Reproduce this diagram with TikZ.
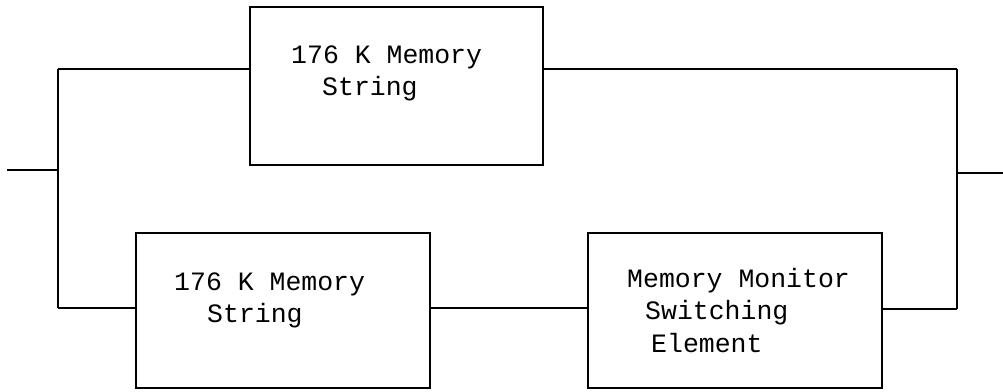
\documentclass[tikz,border=0pt]{standalone}
\usepackage{fontspec}
\setmonofont{Liberation Mono}
\begin{document}
\begin{tikzpicture}[x=1pt,y=-1pt,
  blk/.style={draw, line width=1.3pt, inner sep=0pt, outer sep=0pt},
  wire/.style={line width=1.3pt},
  lbl/.style={anchor=base west, inner sep=0pt, font=\ttfamily\fontsize{26.5}{32}\selectfont}]
\useasboundingbox (0,0) rectangle (1003,391);
% boxes
\node[blk, minimum width=293pt, minimum height=158pt] (top) at (396.5,86) {};
\node[blk, minimum width=294pt, minimum height=155pt] (bl) at (283,310.5) {};
\node[blk, minimum width=294pt, minimum height=155pt] (br) at (735,310.5) {};
% labels
\node[lbl] (t1) at (291,63) {176 K Memory};
\node[lbl] (t2) at (322,95) {String};
\node[lbl] (b1) at (174,290) {176 K Memory};
\node[lbl] (b2) at (207,322) {String};
\node[lbl] (r1) at (627,287) {Memory Monitor};
\node[lbl] (r2) at (645,319) {Switching};
\node[lbl] (r3) at (651,352) {Element};
% junction points
\coordinate (inL) at (7,170);
\coordinate (jL) at (58,170);
\coordinate (lt) at (58,69);
\coordinate (lb) at (58,308);
\coordinate (rt) at (957,69);
\coordinate (rb) at (957,309);
\coordinate (jR) at (957,173);
\coordinate (outR) at (1003,173);
% wires
\draw[wire] (inL) -- (jL);
\draw[wire] (lt) -- (lb);
\draw[wire] (rt) -- (rb);
\draw[wire] (jR) -- (outR);
\draw[wire] (lt) -- (top.west |- lt);
\draw[wire] (top.east |- rt) -- (rt);
\draw[wire] (lb) -- (bl.west |- lb);
\draw[wire] (bl.east |- lb) -- (br.west |- lb);
\draw[wire] (br.east |- rb) -- (rb);
\end{tikzpicture}
\end{document}
